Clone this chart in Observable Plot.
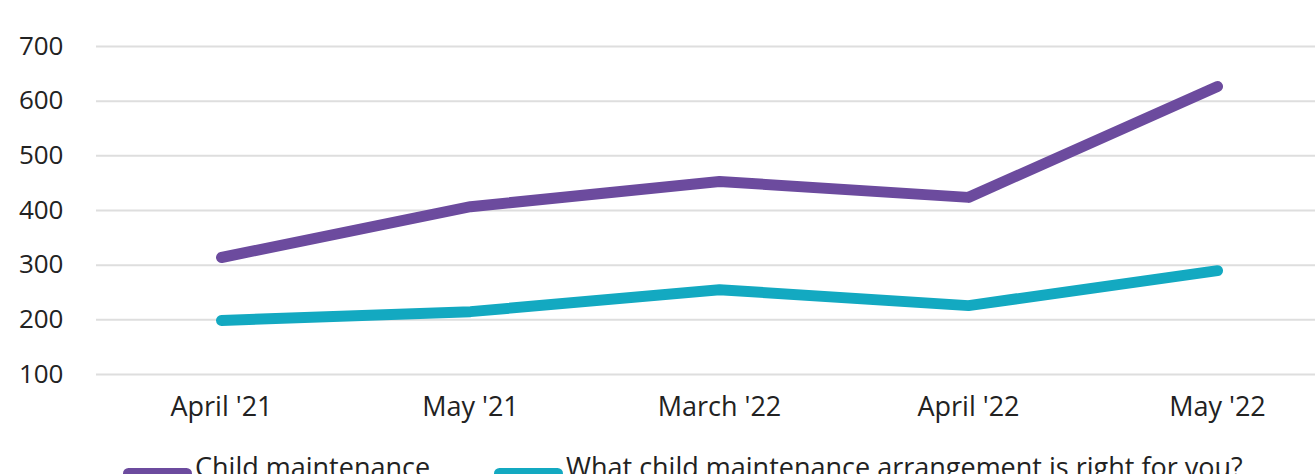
<!DOCTYPE html>
<html>
<head>
<meta charset="utf-8">
<script src="https://cdn.jsdelivr.net/npm/d3@7"></script>
<script src="https://cdn.jsdelivr.net/npm/@observablehq/plot@0.6"></script>
<style>
  html, body { margin: 0; padding: 0; background: #fff; overflow: hidden; width: 1315px; height: 474px; }
  #chart { position: relative; width: 1315px; height: 474px; overflow: hidden; font-family: "Open Sans", sans-serif; color: #222; }
  #chart svg { max-width: none !important; display: block; }
  .legend { position: absolute; left: 0; top: 448px; height: 40px; width: 1315px; font-size: 27px; }
  .item { position: absolute; top: 0; display: flex; align-items: center; white-space: nowrap; }
  .sw { width: 69px; height: 11px; border-radius: 6px; margin-right: 3px; margin-top: 14px; }
</style>
</head>
<body>
<div id="chart"></div>
<script>
const categories = ["April '21", "May '21", "March '22", "April '22", "May '22"];
const seriesNames = ["Child maintenance", "What child maintenance arrangement is right for you?"];
const childMaintenance = [314, 407, 453, 424, 627];
const rightForYou = [199, 215, 255, 226, 290];
const yTicks = [100, 200, 300, 400, 500, 600, 700];
const colors = ["#6c4b9e", "#13a9c1"];

const data = [];
categories.forEach((c, i) => {
  data.push({cat: c, value: childMaintenance[i], series: seriesNames[0]});
  data.push({cat: c, value: rightForYou[i], series: seriesNames[1]});
});

const plot = Plot.plot({
  width: 1341,
  height: 440,
  marginLeft: 96,
  marginRight: 0,
  marginTop: 46,
  marginBottom: 66,
  style: {fontFamily: "Open Sans, sans-serif", fontSize: "26px", color: "#222", background: "#fff", overflow: "visible"},
  x: {type: "point", domain: categories, padding: 0.5, label: null},
  y: {domain: [100, 700], ticks: yTicks, label: null},
  color: {domain: seriesNames, range: colors},
  marks: [
    Plot.ruleY(yTicks, {stroke: "#dedede", strokeWidth: 2}),
    Plot.axisY({ticks: yTicks, tickSize: 0, tickPadding: 33, label: null, fill: "#222", fontSize: 26}),
    Plot.axisX({tickSize: 0, tickPadding: 22, label: null, fill: "#222", fontSize: 27}),
    Plot.line(data, {x: "cat", y: "value", z: "series", stroke: "series", strokeWidth: 11, strokeLinecap: "round", strokeLinejoin: "round"})
  ]
});
const chart = document.getElementById("chart");
chart.appendChild(plot);

const legend = document.createElement("div");
legend.className = "legend";
const lefts = [123, 494];
seriesNames.forEach((name, i) => {
  const item = document.createElement("div");
  item.className = "item";
  item.style.left = lefts[i] + "px";
  const sw = document.createElement("span");
  sw.className = "sw";
  sw.style.background = colors[i];
  const t = document.createElement("span");
  t.textContent = name;
  item.appendChild(sw);
  item.appendChild(t);
  legend.appendChild(item);
});
chart.appendChild(legend);
</script>
</body>
</html>
